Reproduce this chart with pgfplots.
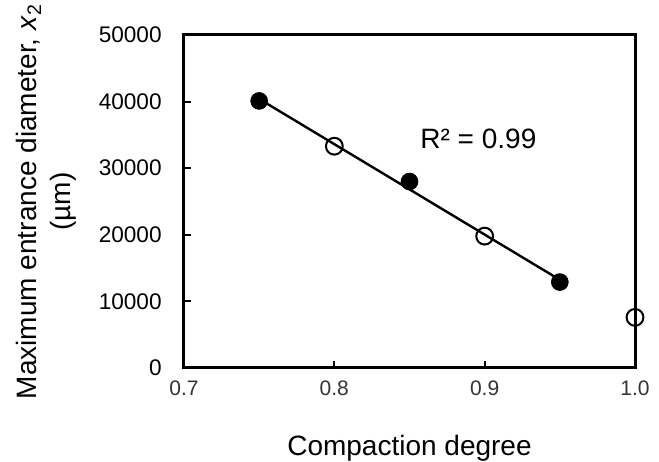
\documentclass[border=0pt]{standalone}
\usepackage{fontspec}
\setmainfont{Liberation Sans}
\usepackage{pgfplots}
\pgfplotsset{compat=1.18}
\begin{document}
\begin{tikzpicture}
\begin{axis}[
    name=ax,
    scale only axis,
    width=225.5pt, height=166.5pt,
    xmin=0.7, xmax=1.0, ymin=0, ymax=50000,
    xtick={0.7,0.8,0.9,1.0},
    ytick={0,10000,20000,30000,40000,50000},
    xtick pos=bottom, ytick pos=left,
    tick align=inside,
    major tick length=3.5pt,
    separate axis lines,
    axis line style={line width=1.5pt, line cap=rect},
    every tick/.style={black, line width=1pt},
    scaled ticks=false,
    clip=false,
    /pgf/number format/assume math mode=true,
    x tick label style={/pgf/number format/fixed, /pgf/number format/fixed zerofill,
        /pgf/number format/precision=1, font=\fontsize{10.5}{12}\selectfont,
        text=black!80, inner sep=0pt, yshift=-6pt},
    y tick label style={/pgf/number format/1000 sep={}, font=\fontsize{11.3}{13}\selectfont,
        inner sep=0pt, xshift=-11pt},
    xlabel={Compaction degree},
    xlabel style={at={(axis description cs:0.5,-0.201)}, anchor=north, inner sep=0pt,
        font=\fontsize{14}{17}\selectfont},
    ylabel={Maximum entrance diameter, \textit{x}\textsubscript{2}\\(µm)},
    ylabel style={at={(axis description cs:-0.237,0.5)}, anchor=south, inner sep=0pt,
        align=center, font=\fontsize{14}{17}\selectfont},
]
% linear trend over the filled points
\addplot[black, line width=1.2pt] coordinates {(0.75,40400) (0.95,13240)};
\addplot[only marks, mark=*, mark size=4.2pt, black] coordinates {
    (0.75,40100) (0.85,28000) (0.95,12900)
};
\addplot[only marks, mark=o, mark size=4.2pt, black, mark options={line width=1pt}] coordinates {
    (0.8,33300) (0.9,19800) (1.0,7600)
};
\node[anchor=base west, inner sep=0pt, font=\fontsize{14}{17}\selectfont]
    at (axis cs:0.857,32900) {R² = 0.99};
\end{axis}
\path[use as bounding box] ([xshift=-92pt,yshift=-45.5pt]ax.south west)
    rectangle ([xshift=237.5pt,yshift=184pt]ax.south west);
\end{tikzpicture}
\end{document}
